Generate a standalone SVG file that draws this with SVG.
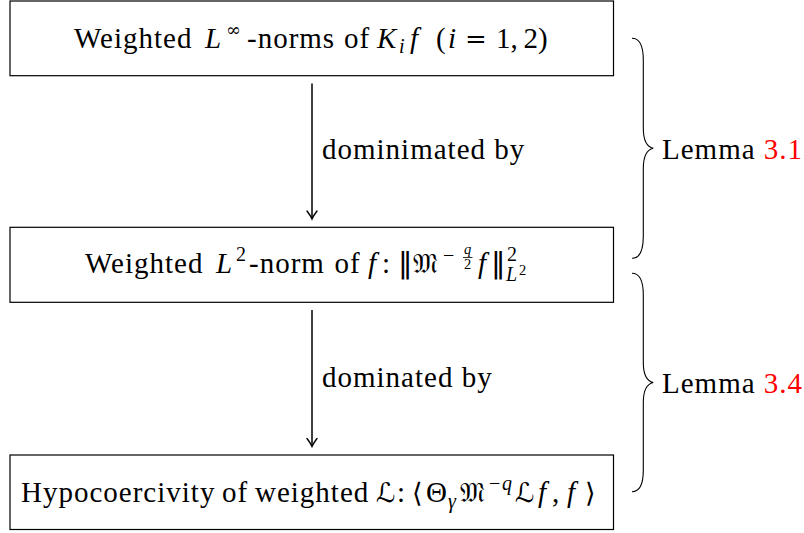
<svg xmlns="http://www.w3.org/2000/svg" width="804" height="533" viewBox="0 0 804 533">
<g id="node1">
<rect x="10" y="1" width="603.5" height="74.7" fill="#fff" stroke="#000" stroke-width="1.2"/>
<text font-family="Liberation Serif" font-size="29" letter-spacing="1" x="74" y="48">Weighted</text>
<text font-family="Liberation Serif" font-size="29" font-style="italic" x="205" y="48">L</text>
<text font-family="DejaVu Serif" font-size="18" x="226" y="36">∞</text>
<text font-family="Liberation Serif" font-size="29" letter-spacing="1" x="247" y="48">-norms</text>
<text font-family="Liberation Serif" font-size="29" letter-spacing="1" x="344" y="48">of</text>
<text font-family="Liberation Serif" font-size="29" font-style="italic" x="377" y="48">K</text>
<text font-family="Liberation Serif" font-size="20" font-style="italic" x="399" y="53">i</text>
<text font-family="Liberation Serif" font-size="29" font-style="italic" x="410" y="48">f</text>
<text font-family="Liberation Serif" font-size="29" x="436" y="48">(</text>
<text font-family="Liberation Serif" font-size="29" font-style="italic" x="448" y="48">i</text>
<text font-family="DejaVu Serif" font-size="26" x="465" y="48">=</text>
<text font-family="Liberation Serif" font-size="29" x="496" y="48">1</text>
<text font-family="Liberation Serif" font-size="29" x="510.5" y="48">,</text>
<text font-family="Liberation Serif" font-size="29" x="523.4" y="48">2</text>
<text font-family="Liberation Serif" font-size="29" x="538" y="48">)</text>
</g>
<g id="node2">
<rect x="10" y="227.3" width="603.5" height="75" fill="#fff" stroke="#000" stroke-width="1.2"/>
<text font-family="Liberation Serif" font-size="29" letter-spacing="1" x="85" y="273">Weighted</text>
<text font-family="Liberation Serif" font-size="29" font-style="italic" x="216" y="273">L</text>
<text font-family="Liberation Serif" font-size="20" x="236" y="261">2</text>
<text font-family="Liberation Serif" font-size="29" letter-spacing="1" x="249" y="273">-norm</text>
<text font-family="Liberation Serif" font-size="29" letter-spacing="1" x="334.5" y="273">of</text>
<text font-family="Liberation Serif" font-size="29" font-style="italic" x="368" y="273">f</text>
<text font-family="Liberation Serif" font-size="29" x="382" y="273">:</text>
<text font-family="DejaVu Sans" font-size="29" x="398" y="273">‖</text>
<text font-family="DejaVu Sans" font-size="27" x="413" y="273">𝔐</text>
<text font-family="Liberation Serif" font-size="20" x="443" y="262">−</text>
<text font-family="Liberation Serif" font-size="14.5" font-style="italic" x="464" y="254">q</text>
<line x1="463" y1="257.5" x2="472.5" y2="257.5" stroke="#000" stroke-width="0.8"/>
<text font-family="Liberation Serif" font-size="14.5" x="464" y="268.5">2</text>
<text font-family="Liberation Serif" font-size="29" font-style="italic" x="478" y="273">f</text>
<text font-family="DejaVu Sans" font-size="29" x="491" y="273">‖</text>
<text font-family="Liberation Serif" font-size="20" x="507" y="261">2</text>
<text font-family="Liberation Serif" font-size="20" font-style="italic" x="506" y="281">L</text>
<text font-family="Liberation Serif" font-size="14.5" x="519" y="275">2</text>
</g>
<g id="node3">
<rect x="10" y="455" width="603.5" height="74.5" fill="#fff" stroke="#000" stroke-width="1.2"/>
<text font-family="Liberation Serif" font-size="29" letter-spacing="1" x="21" y="502">Hypocoercivity</text>
<text font-family="Liberation Serif" font-size="29" letter-spacing="1" x="222" y="502">of</text>
<text font-family="Liberation Serif" font-size="29" letter-spacing="1" x="255" y="502">weighted</text>
<text font-family="DejaVu Sans" font-size="27" x="376" y="502">ℒ</text>
<text font-family="Liberation Serif" font-size="29" x="397" y="502">:</text>
<text font-family="DejaVu Sans" font-size="27" x="412" y="502">⟨</text>
<text font-family="Liberation Serif" font-size="29" x="426" y="502">Θ</text>
<text font-family="Liberation Serif" font-size="20" font-style="italic" x="448" y="508">γ</text>
<text font-family="DejaVu Sans" font-size="27" x="460" y="502">𝔐</text>
<text font-family="Liberation Serif" font-size="20" x="489" y="490">−</text>
<text font-family="Liberation Serif" font-size="20" font-style="italic" x="502" y="490">q</text>
<text font-family="DejaVu Sans" font-size="27" x="515" y="502">ℒ</text>
<text font-family="Liberation Serif" font-size="29" font-style="italic" x="538" y="502">f</text>
<text font-family="Liberation Serif" font-size="29" x="552" y="502">,</text>
<text font-family="Liberation Serif" font-size="29" font-style="italic" x="567" y="502">f</text>
<text font-family="DejaVu Sans" font-size="27" x="585" y="502">⟩</text>
</g>
<g id="connectors" fill="none" stroke="#000">
<line x1="312" y1="83.5" x2="312" y2="218" stroke-width="1.5"/>
<path stroke-width="1.4" stroke-linecap="round" d="M307,211 Q310.5,215.5 312,219 Q313.5,215.5 317,211"/>
<line x1="312" y1="310" x2="312" y2="445.5" stroke-width="1.5"/>
<path stroke-width="1.4" stroke-linecap="round" d="M307,438.5 Q310.5,443 312,446.5 Q313.5,443 317,438.5"/>
<path stroke-width="1.1" d="M632,38.3 C640,38.3 643.3,46 643.3,60 L643.3,128 C643.3,141 646.5,146.8 653.3,148.3 C646.5,149.8 643.3,155.6 643.3,168.6 L643.3,236.6 C643.3,250.6 640,258.3 632,258.3"/>
<path stroke-width="1.1" d="M632,273.3 C640,273.3 643.3,281 643.3,295 L643.3,362.5 C643.3,375.5 646.5,381 653.3,382.5 C646.5,384 643.3,389.5 643.3,402.5 L643.3,470 C643.3,484 640,491.7 632,491.7"/>
</g>
<g id="labels">
<text font-family="Liberation Serif" font-size="29" letter-spacing="1" x="322" y="159">dominimated by</text>
<text font-family="Liberation Serif" font-size="29" letter-spacing="1" x="322" y="387">dominated by</text>
<text font-family="Liberation Serif" font-size="29" letter-spacing="1" x="662" y="159">Lemma <tspan fill="#ff0000">3.1</tspan></text>
<text font-family="Liberation Serif" font-size="29" letter-spacing="1" x="662" y="393">Lemma <tspan fill="#ff0000">3.4</tspan></text>
</g>
</svg>
